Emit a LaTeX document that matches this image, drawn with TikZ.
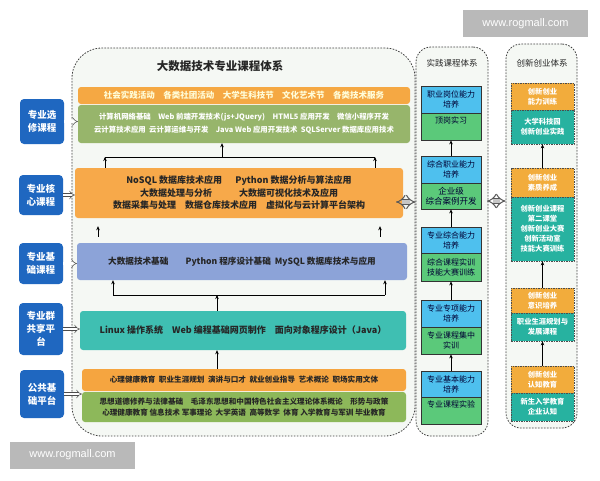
\documentclass[tikz,border=0pt]{standalone}
\usepackage{fontspec}
\usepackage{xcolor}
\usetikzlibrary{arrows.meta,calc,positioning}
\newfontfamily\cjk{Noto Sans CJK SC}
\setsansfont{Liberation Sans}
\definecolor{frmbg}{HTML}{F5F8F4}
\definecolor{actorg}{HTML}{F5A843}
\definecolor{elecgrn}{HTML}{97B56B}
\definecolor{coreorg}{HTML}{F7A94A}
\definecolor{basebl}{HTML}{8CA3D8}
\definecolor{sharetl}{HTML}{3FBFB2}
\definecolor{puborg}{HTML}{F5A540}
\definecolor{pubgrn}{HTML}{8DB85A}
\definecolor{side}{HTML}{1F67C0}
\definecolor{pracblue}{HTML}{4EC0EE}
\definecolor{pracgrn}{HTML}{5BC97A}
\definecolor{innorg}{HTML}{F2AC3C}
\definecolor{inntl}{HTML}{27B2A0}
\colorlet{dtext}{black!85}

\begin{document}
\begin{tikzpicture}[
      x=1pt,y=-1pt,
      font=\cjk\bfseries,
      dframe/.style={draw=black!75,dash pattern=on 1.6pt off 1.4pt,line width=.8pt,rounded corners=#1,fill=frmbg,inner sep=0},
      bar/.style={fill=#1,rounded corners=3pt,inner sep=0,align=center},
      sidebox/.style={fill=side,rounded corners=4pt,minimum width=44,minimum height=#1,text=white,align=center,font=\cjk\bfseries\fontsize{9.5}{13}\selectfont},
      pbox/.style={draw=black!80,line width=.8pt,fill=#1,minimum width=60,inner sep=0,align=center,text=black!80!blue,font=\cjk\fontsize{8}{10}\selectfont},
      ibox/.style={draw=black!70,dash pattern=on 1.5pt off 1pt,line width=.7pt,fill=#1,minimum width=63,inner sep=0,align=center,text=white,font=\cjk\bfseries\fontsize{7.3}{10}\selectfont},
      arr/.style={line width=.6pt,-{Stealth[length=4pt,width=3.5pt]}},
      hollow/.style={draw=black!70,line width=.5pt,double=white,double distance=2.4pt,-{Implies}},
      dbl/.style={draw=gray!70!black,line width=1pt,double=gray!45,double distance=4pt,{Implies}-{Implies}},
      wmark/.style={fill=gray!55,text=white,font=\sffamily\mdseries\fontsize{11}{11}\selectfont,minimum width=125,minimum height=27},
    ]
    \path[fill=white,use as bounding box] (0,0) rectangle (600,480);
    %
    \node (wm1) [wmark] at (525.5,23.5) {www.rogmall.com};
    \node (wm2) [wmark] at (72.5,455) {www.rogmall.com};
    %
    \node (mfr) [dframe=30pt,minimum width=343,minimum height=388] at (243.5,242) {};
    \node (pfr) [dframe=15pt,minimum width=72,minimum height=389] at (452,241.5) {};
    \node (ifr) [dframe=15pt,minimum width=71,minimum height=384] at (541.5,236) {};
    %
    \node (ttl) [dtext,font=\cjk\bfseries\fontsize{11.5}{12}\selectfont] at (220,66) {大数据技术专业课程体系};
    \node (pttl) [dtext,font=\cjk\fontsize{8.5}{9}\selectfont] at (452,63) {实践课程体系};
    \node (ittl) [dtext,font=\cjk\fontsize{8.5}{9}\selectfont] at (542,63) {创新创业体系};
    %
    \node (act) [bar=actorg,minimum width=332,minimum height=17,text=yellow!15,font=\cjk\bfseries\fontsize{8.5}{10}\selectfont] at (244,95.5)
      {社会实践活动\quad 各类社团活动\quad 大学生科技节\quad 文化艺术节\quad 各类技术服务};
    \node (elec) [bar=elecgrn,minimum width=332,minimum height=38,text=white,font=\cjk\bfseries\fontsize{7.4}{13}\selectfont] at (244,124)
      {计算机网络基础\quad Web 前端开发技术(js+JQuery)\quad HTML5 应用开发\quad 微信小程序开发\\
       云计算技术应用\ \ 云计算运维与开发\quad Java Web 应用开发技术\ \ SQLServer 数据库应用技术};
    \node (core) [bar=coreorg,minimum width=328,minimum height=50,text=dtext,font=\cjk\bfseries\fontsize{9}{12.5}\selectfont] at (239,193)
      {NoSQL 数据库技术应用\quad\ \ Python 数据分析与算法应用\\
       大数据处理与分析\qquad\quad 大数据可视化技术及应用\\
       数据采集与处理\quad 数据仓库技术应用\quad 虚拟化与云计算平台架构};
    \node (base) [bar=basebl,minimum width=330,minimum height=37,text=dtext,font=\cjk\bfseries\fontsize{8.6}{10}\selectfont] at (242,261.5)
      {大数据技术基础\qquad Python 程序设计基础\ \ MySQL 数据库技术与应用};
    \node (share) [bar=sharetl,minimum width=326,minimum height=39,text=dtext,font=\cjk\bfseries\fontsize{9}{10}\selectfont] at (243,330.5)
      {Linux 操作系统\quad Web 编程基础网页制作\quad 面向对象程序设计（Java）};
    \node (pub1) [bar=puborg,minimum width=324,minimum height=22,text=dtext,font=\cjk\bfseries\fontsize{7.6}{9}\selectfont] at (244,380)
      {心理健康教育\ \ 职业生涯规划\ \ 演讲与口才\ \ 就业创业指导\ \ 艺术概论\ \ 职场实用文体};
    \node (pub2) [bar=pubgrn,minimum width=324,minimum height=30,text=dtext,font=\cjk\bfseries\fontsize{7.6}{10.5}\selectfont] at (244,407)
      {思想道德修养与法律基础\quad 毛泽东思想和中国特色社会主义理论体系概论\quad 形势与政策\\
       心理健康教育\ 信息技术\ 军事理论\ \ 大学英语\ \ 高等数学\ \ 体育\ 入学教育与军训\ 毕业教育};
    %
    \node (l1) [sidebox=45] at (42,121.5) {专业选\\修课程};
    \node (l2) [sidebox=40] at (41,195) {专业核\\心课程};
    \node (l3) [sidebox=41] at (41,263.5) {专业基\\础课程};
    \node (l4) [sidebox=52] at (41,329) {专业群\\共享平\\台};
    \node (l5) [sidebox=48] at (42,394) {公共基\\础平台};
    %
    \draw[hollow] (l1.east) -- (l1.east -| elec.west);
    \draw[hollow] (l2.east) -- (l2.east -| core.west);
    \draw[hollow] (l3.east) -- (l3.east -| base.west);
    \draw[hollow] (l4.east) -- (l4.east -| share.west);
    \draw[hollow] (l5.east) -- (l5.east -| pub2.west);
    %
    \coordinate (cL) at (105,157);
    \coordinate (cR) at (375,157);
    \coordinate (cM) at (222,157);
    \draw[arr] (cL |- core.north) -- (cL);
    \draw[arr] (cR |- core.north) -- (cR);
    \draw[line width=.6pt] (cL) -- (cR);
    \draw[arr] (cM) -- (cM |- elec.south);
    %
    \draw[arr,shorten <=6pt,shorten >=8pt] (98,0 |- base.north) -- (98,0 |- core.south);
    \draw[arr,shorten <=6pt,shorten >=8pt] (380,0 |- base.north) -- (380,0 |- core.south);
    %
    \coordinate (bL) at (113,295);
    \coordinate (bR) at (385,295);
    \coordinate (bM) at (217,295);
    \draw[arr] (bM |- share.north) -- (bM);
    \draw[line width=.6pt] (bL) -- (bR);
    \draw[arr] (bL) -- (bL |- base.south);
    \draw[arr] (bR) -- (bR |- base.south);
    \draw[arr] (217,0 |- pub1.north) -- (217,0 |- share.south);
    %
    \node (p1b) [pbox=pracblue,minimum height=27] at (451,99.5) {职业岗位能力\\培养};
    \node (p1g) [pbox=pracgrn,minimum height=27] at (451,126.5) {顶岗实习\\\strut};
    \node (p2b) [pbox=pracblue,minimum height=27] at (451,169.5) {综合职业能力\\培养};
    \node (p2g) [pbox=pracgrn,minimum height=26,font=\cjk\fontsize{8.5}{10.5}\selectfont] at (451,196) {企业级\\综合案例开发};
    \node (p3b) [pbox=pracblue,minimum height=26] at (451,240) {专业综合能力\\培养};
    \node (p3g) [pbox=pracgrn,minimum height=28] at (451,267) {综合课程实训\\技能大赛训练};
    \node (p4b) [pbox=pracblue,minimum height=27] at (451,313.5) {专业专项能力\\培养};
    \node (p4g) [pbox=pracgrn,minimum height=27] at (451,340.5) {专业课程集中\\实训};
    \node (p5b) [pbox=pracblue,minimum height=26] at (451,384) {专业基本能力\\培养};
    \node (p5g) [pbox=pracgrn,minimum height=27] at (451,410.5) {专业课程实验\\\strut};
    %
    \draw[arr] (p2b.north) -- (p1g.south);
    \draw[arr] (p3b.north) -- (p2g.south);
    \draw[arr] (p4b.north) -- (p3g.south);
    \draw[arr] (p5b.north) -- (p4g.south);
    %
    \node (i1o) [ibox=innorg,minimum height=27] at (542.5,96.5) {创新创业\\能力训练};
    \node (i1t) [ibox=inntl,minimum height=34] at (542.5,127) {大学科技园\\创新创业实践};
    \node (i2o) [ibox=innorg,minimum height=29] at (542.5,182.5) {创新创业\\素质养成};
    \node (i2t) [ibox=inntl,minimum height=64] at (542.5,229) {创新创业课程\\第二课堂\\创新创业大赛\\创新活动室\\技能大赛训练};
    \node (i3o) [ibox=innorg,minimum height=25] at (542.5,300.5) {创新创业\\意识培养};
    \node (i3t) [ibox=inntl,minimum height=28] at (542.5,327) {职业生涯规划与\\发展课程};
    \node (i4o) [ibox=innorg,minimum height=27] at (542.5,379.5) {创新创业\\认知教育};
    \node (i4t) [ibox=inntl,minimum height=28] at (542.5,407) {新生入学教育\\企业认知};
    %
    \draw[arr] (i2o.north) -- (i1t.south);
    \draw[arr] (i3o.north) -- (i2t.south);
    \draw[arr] (i4o.north) -- (i3t.south);
    %
    \coordinate (d1) at (396,202);
    \coordinate (d2) at (487,201);
    \draw[dbl] (d1) -- (d1 -| pfr.west);
    \draw[dbl] (d2) -- (d2 -| ifr.west);
    %
  \end{tikzpicture}
\end{document}
